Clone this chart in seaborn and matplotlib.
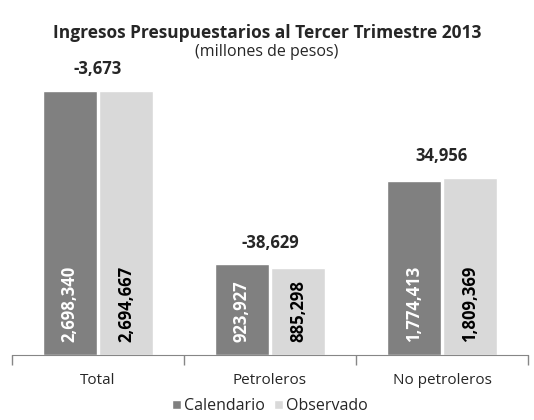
import pandas as pd
import matplotlib.pyplot as plt
import seaborn as sns

# Data (millones de pesos)
categorias = ['Total', 'Petroleros', 'No petroleros']
calendario = [2698340, 923927, 1774413]
observado = [2694667, 885298, 1809369]
series = ['Calendario', 'Observado']
colores = ['#808080', '#D9D9D9']

df = pd.DataFrame({
    'Categoria': categorias * 2,
    'Serie': [series[0]] * 3 + [series[1]] * 3,
    'Valor': calendario + observado,
})

sns.set_style('white')
plt.rcParams['font.family'] = ['Open Sans', 'DejaVu Sans']

fig = plt.figure(figsize=(5.34, 4.2), dpi=100)
ax = fig.add_axes([12 / 534, 65 / 420, 516 / 534, 290 / 420])

sns.barplot(data=df, x='Categoria', y='Valor', hue='Serie', palette=colores,
            width=0.66, gap=0.05, ax=ax, legend=True)

ax.set_xlim(-0.5, 2.5)
ax.set_ylim(0, 2960000)
ax.set_yticks([])
ax.set_xlabel('')
ax.set_ylabel('')
for s in ['top', 'right', 'left']:
    ax.spines[s].set_visible(False)
ax.spines['bottom'].set_color('#868686')
ax.tick_params(axis='x', which='major', length=0, labelsize=11, pad=13)
ax.set_xticks([-0.5, 0.5, 1.5, 2.5], minor=True)
ax.tick_params(axis='x', which='minor', bottom=True, length=7, width=1,
               color='#868686', direction='out')

# value labels inside the bars
for cont, col in zip(ax.containers, ['white', 'black']):
    for bar in cont:
        ax.annotate(f'{bar.get_height():,.0f}',
                    (bar.get_x() + bar.get_width() / 2, 0),
                    xytext=(0, 9), textcoords='offset points',
                    rotation=90, ha='center', va='bottom',
                    fontsize=12, fontweight='bold', color=col)

# difference labels above each group
for i, (c, o) in enumerate(zip(calendario, observado)):
    ax.annotate(f'{o - c:,.0f}', (i, max(c, o)),
                xytext=(0, 9), textcoords='offset points',
                ha='center', va='bottom', fontsize=12, fontweight='bold')

fig.text(0.5, 1 - 33 / 420, 'Ingresos Presupuestarios al Tercer Trimestre 2013',
         ha='center', va='center', fontsize=12.5, fontweight='bold')
fig.text(0.5, 1 - 52 / 420, '(millones de pesos)',
         ha='center', va='center', fontsize=11.5)

ax.legend(loc='center', bbox_to_anchor=(0.5, -0.177), ncol=2, frameon=False,
          fontsize=11.5, handlelength=0.55, handleheight=0.55, handletextpad=0.2,
          columnspacing=0.6)

fig.savefig('out.png', dpi=100)
